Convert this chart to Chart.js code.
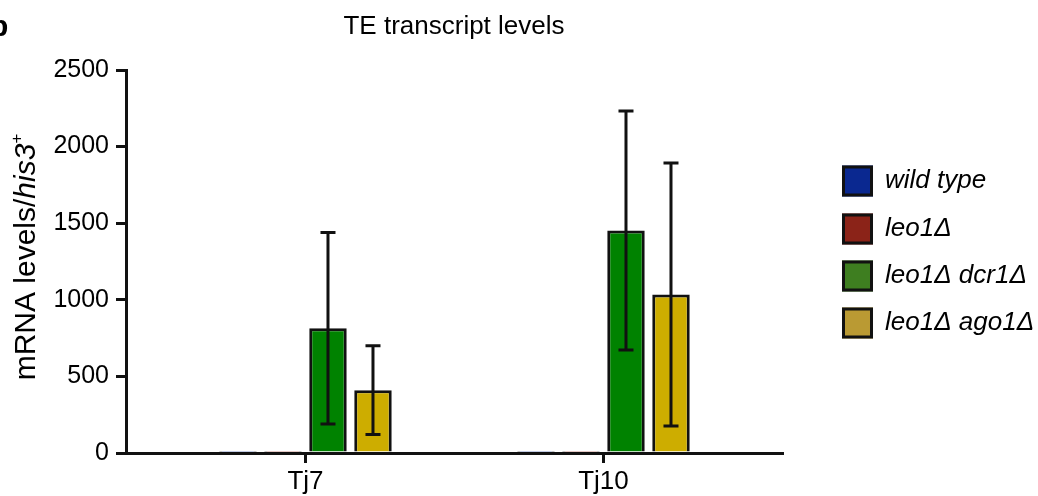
<!DOCTYPE html>
<html>
<head>
<meta charset="utf-8">
<script src="https://cdn.jsdelivr.net/npm/chart.js@4.4.1/dist/chart.umd.min.js"></script>
<style>
  html, body { margin: 0; padding: 0; background: #fff; }
  #wrap { width: 1038px; height: 496px; position: relative; }
</style>
</head>
<body>
<div id="wrap"><canvas id="c" width="1038" height="496"></canvas></div>
<script>
// TE transcript levels (mRNA relative to his3+), mean and error per strain
const categories = ['Tj7', 'Tj10'];
const seriesNames = ['wild type', 'leo1Δ', 'leo1Δ dcr1Δ', 'leo1Δ ago1Δ'];
const wildType = [2, 2];
const leo1 = [4, 3];
const leo1Dcr1 = [815, 1452];
const leo1Ago1 = [410, 1035];
const wildTypeErr = [0, 0];
const leo1Err = [0, 0];
const leo1Dcr1Err = [625, 780];
const leo1Ago1Err = [290, 858];
const yTicks = [0, 500, 1000, 1500, 2000, 2500];

const barColors = ['#0B2C8E', '#8A2315', '#008200', '#CDAD00'];
const legendColors = ['#0A2890', '#8B2318', '#3E7E20', '#BA9A33'];
const FONT = '"Liberation Sans", Arial, Helvetica, sans-serif';

const seriesValues = [wildType, leo1, leo1Dcr1, leo1Ago1];
const seriesErrors = [wildTypeErr, leo1Err, leo1Dcr1Err, leo1Ago1Err];

// category i sits at x = i + 1 on a linear axis so the outer margins can be set freely
const datasets = seriesNames.map((name, s) => ({
  label: name,
  data: seriesValues[s].map((v, i) => ({ x: i + 1, y: v })),
  errors: seriesErrors[s],
  backgroundColor: barColors[s],
  borderColor: '#111',
  borderWidth: 3,
  categoryPercentage: 0.604,
  barPercentage: 0.833
}));

// mean ± error whiskers with caps
const errorBars = {
  id: 'errorBars',
  afterDatasetsDraw(chart) {
    const ctx = chart.ctx;
    const y = chart.scales.y;
    ctx.save();
    ctx.strokeStyle = '#111';
    ctx.lineWidth = 3;
    chart.data.datasets.forEach((ds, di) => {
      const meta = chart.getDatasetMeta(di);
      meta.data.forEach((bar, i) => {
        const err = ds.errors[i];
        if (!err) return;
        const v = ds.data[i].y;
        const top = y.getPixelForValue(v + err);
        const bot = y.getPixelForValue(v - err);
        const cap = 7.5;
        ctx.beginPath();
        ctx.moveTo(bar.x, top); ctx.lineTo(bar.x, bot);
        ctx.moveTo(bar.x - cap, top); ctx.lineTo(bar.x + cap, top);
        ctx.moveTo(bar.x - cap, bot); ctx.lineTo(bar.x + cap, bot);
        ctx.stroke();
      });
    });
    ctx.restore();
  }
};

// axis title with italic gene name and superscript, legend and panel letter
const annotations = {
  id: 'annotations',
  afterDraw(chart) {
    const ctx = chart.ctx;
    ctx.save();
    // panel letter
    ctx.fillStyle = '#000';
    ctx.font = 'bold 30px ' + FONT;
    ctx.textBaseline = 'alphabetic';
    ctx.textAlign = 'left';
    ctx.fillText('b', -10, 36);

    // y axis title
    const parts = [
      { t: 'mRNA levels/', f: '30px ' + FONT, dy: 0 },
      { t: 'his3', f: 'italic 30px ' + FONT, dy: 0 },
      { t: '+', f: '17px ' + FONT, dy: -10 }
    ];
    let total = 0;
    parts.forEach(p => { ctx.font = p.f; p.w = ctx.measureText(p.t).width; total += p.w; });
    ctx.translate(27, 257);
    ctx.rotate(-Math.PI / 2);
    ctx.textBaseline = 'middle';
    let x = -total / 2;
    parts.forEach(p => { ctx.font = p.f; ctx.fillText(p.t, x, p.dy); x += p.w; });
    ctx.restore();

    // legend
    ctx.save();
    const boxX = 842, box = 31, textX = 885;
    const centers = [181, 229, 276, 323];
    chart.data.datasets.forEach((ds, i) => {
      const cy = centers[i];
      ctx.fillStyle = legendColors[i];
      ctx.fillRect(boxX, cy - box / 2, box, box);
      ctx.strokeStyle = '#111';
      ctx.lineWidth = 3;
      ctx.strokeRect(boxX + 1.5, cy - box / 2 + 1.5, box - 3, box - 3);
      ctx.fillStyle = '#000';
      ctx.font = 'italic 26px ' + FONT;
      ctx.textBaseline = 'middle';
      ctx.textAlign = 'left';
      ctx.fillText(ds.label, textX, cy);
    });
    ctx.restore();
  }
};

new Chart(document.getElementById('c'), {
  type: 'bar',
  data: { datasets },
  options: {
    responsive: false,
    animation: false,
    events: [],
    layout: { padding: { left: 0, right: 256, top: 0, bottom: 0 } },
    plugins: {
      legend: { display: false },
      tooltip: { enabled: false },
      title: {
        display: true,
        text: 'TE transcript levels',
        color: '#000',
        font: { family: FONT, size: 26, weight: 'normal' },
        padding: { top: 11, bottom: 27.8 },
        fullSize: false
      }
    },
    scales: {
      x: {
        type: 'linear',
        offset: false,
        min: 0.3977,
        max: 2.599,
        afterBuildTicks: s => { s.ticks = categories.map((_, i) => ({ value: i + 1 })); },
        ticks: {
          callback: v => categories[v - 1] ?? '',
          color: '#000',
          font: { family: FONT, size: 26 },
          padding: 3,
          autoSkip: false,
          maxRotation: 0
        },
        grid: { drawOnChartArea: false, offset: false, tickLength: 10, color: '#111', lineWidth: 3 },
        border: { display: true, color: '#111', width: 3 },
        afterFit: s => { s.height = 43; }
      },
      y: {
        min: 0,
        max: 2500,
        afterBuildTicks: s => { s.ticks = yTicks.map(v => ({ value: v })); },
        ticks: {
          callback: v => String(v),
          color: '#000',
          font: { family: FONT, size: 25 },
          padding: 7
        },
        grid: { drawOnChartArea: false, tickLength: 10, color: '#111', lineWidth: 3 },
        border: { display: true, color: '#111', width: 3 },
        afterFit: s => { s.width = 126; }
      }
    }
  },
  plugins: [errorBars, annotations]
});
</script>
</body>
</html>
